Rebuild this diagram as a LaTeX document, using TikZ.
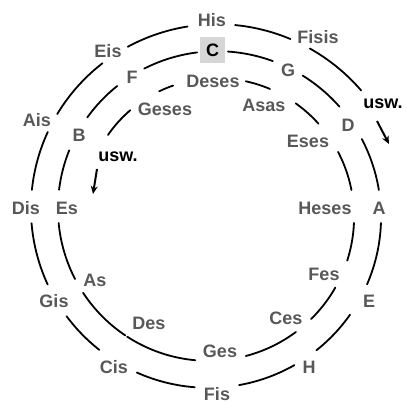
\documentclass[tikz,border=0pt]{standalone}
\usepackage{fontspec}
\setmainfont{Liberation Sans}
\usetikzlibrary{arrows.meta}
\definecolor{labelgray}{RGB}{88,88,88}
\definecolor{boxgray}{RGB}{214,214,214}
\begin{document}
\begin{tikzpicture}[x=1pt,y=-1pt,
  lbl/.style={font=\fontsize{18}{18}\selectfont\bfseries, text=labelgray, inner sep=0pt},
  uswlbl/.style={font=\fontsize{18}{18}\selectfont\bfseries, text=black, inner sep=0pt},
  tonicbox/.style={lbl, text=black, fill=boxgray, minimum width=25pt, minimum height=26pt},
  spiralarc/.style={line width=1.8pt, black, line cap=round},
  uswarrow/.style={line width=2pt, black, -{Stealth[length=8pt,width=7pt]}}]
\useasboundingbox (0,0) rectangle (407,403);
% spiral segments (angle measured clockwise from the top, C = 0)
\begin{scope}[shift={(212.75,212.75)}]
\foreach \a/\b in {-413.4/-398.8, -383.8/-377.3, -345.9/-335.2, -322.8/-310.1,
  -295.9/-279.3, -265.9/-250.4, -238.6/-222.8, -214.9/-193, -173.2/-145.4,
  -144.5/-121.7, -115.7/-93.8, -81.5/-66.5, -52.8/-37, -25.4/-5.6, 5.4/21.6,
  33.3/50.1, 63.7/82.2, 93.5/114.9, 126.6/143, 151.8/171.3, 185.9/205.4,
  219.6/234.7, 246.5/266.7, 277.2/296.1, 302.4/323.6, 332.9/352.3,
  366.8/384.1, 390.6/410.5}
  \draw[spiralarc] plot[variable=\t, domain=\a:\b, samples=25, smooth]
    ({\t-90}:{161.5+0.075*\t});
\end{scope}
% labels
\node[lbl] (his) at (212,20) {His};
\node[lbl] (fisis) at (318,37) {Fisis};
\node[uswlbl] (uswout) at (383,104) {usw.};
\node[lbl] (eis) at (108,51) {Eis};
\node[tonicbox] (c) at (212.5,50) {C};
\node[lbl] (g) at (288,70) {G};
\node[lbl] (f) at (132,77) {F};
\node[lbl] (deses) at (213,81) {Deses};
\node[lbl] (asas) at (264,105) {Asas};
\node[lbl] (d) at (348,125) {D};
\node[lbl] (geses) at (165,109) {Geses};
\node[lbl] (ais) at (37,120) {Ais};
\node[lbl] (b) at (79,135) {B};
\node[lbl] (eses) at (308,141) {Eses};
\node[uswlbl] (uswin) at (118,157) {usw.};
\node[lbl] (dis) at (26,208) {Dis};
\node[lbl] (es) at (67,208) {Es};
\node[lbl] (heses) at (325,208) {Heses};
\node[lbl] (a) at (379,208) {A};
\node[lbl] (as) at (95,280) {As};
\node[lbl] (fes) at (324,274) {Fes};
\node[lbl] (gis) at (54,301) {Gis};
\node[lbl] (e) at (369,301) {E};
\node[lbl] (des) at (149,323) {Des};
\node[lbl] (ces) at (286,318) {Ces};
\node[lbl] (ges) at (220,351) {Ges};
\node[lbl] (h) at (309,367) {H};
\node[lbl] (cis) at (114,367) {Cis};
\node[lbl] (fis) at (217,394) {Fis};
% "usw." arrows
\coordinate (outstart) at (377,121);
\coordinate (outend) at (389,144);
\coordinate (instart) at (97,169);
\coordinate (inend) at (93,194);
\draw[uswarrow] (outstart) -- (outend);
\draw[uswarrow] (instart) -- (inend);
\end{tikzpicture}
\end{document}
